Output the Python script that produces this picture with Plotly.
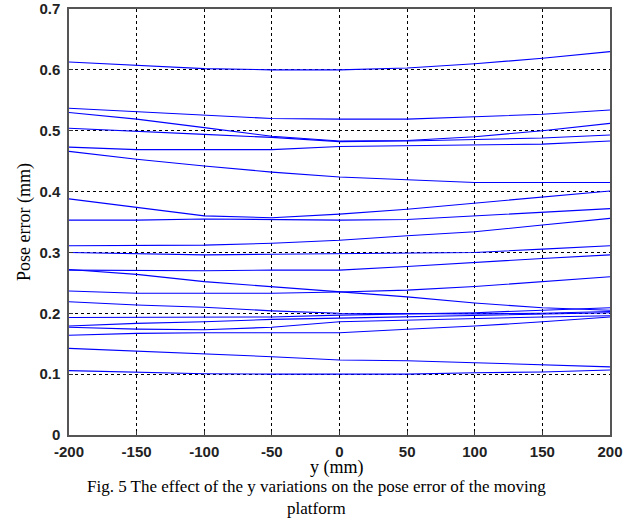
import plotly.graph_objects as go

y_pos = [-200, -150, -100, -50, 0, 50, 100, 150, 200]

curve_A = [0.613, 0.607, 0.602, 0.600, 0.600, 0.603, 0.610, 0.619, 0.630]
curve_B = [0.537, 0.531, 0.525, 0.520, 0.519, 0.519, 0.523, 0.527, 0.534]
curve_C = [0.530, 0.519, 0.505, 0.491, 0.483, 0.484, 0.490, 0.500, 0.512]
curve_D = [0.504, 0.4995, 0.494, 0.489, 0.482, 0.483, 0.485, 0.488, 0.493]
curve_E = [0.473, 0.469, 0.469, 0.469, 0.474, 0.475, 0.476, 0.478, 0.483]
curve_F = [0.466, 0.453, 0.442, 0.432, 0.424, 0.419, 0.415, 0.415, 0.415]
curve_G = [0.388, 0.3735, 0.360, 0.357, 0.363, 0.371, 0.381, 0.3915, 0.401]
curve_H = [0.353, 0.353, 0.355, 0.354, 0.353, 0.354, 0.360, 0.365, 0.372]
curve_I = [0.311, 0.311, 0.312, 0.315, 0.320, 0.3275, 0.334, 0.345, 0.356]
curve_J = [0.300, 0.298, 0.296, 0.297, 0.298, 0.298, 0.300, 0.3055, 0.311]
curve_K = [0.271, 0.270, 0.270, 0.271, 0.271, 0.277, 0.284, 0.290, 0.296]
curve_L = [0.272, 0.264, 0.252, 0.2437, 0.2345, 0.227, 0.217, 0.209, 0.205]
curve_M = [0.2366, 0.233, 0.233, 0.233, 0.235, 0.238, 0.244, 0.252, 0.260]
curve_N = [0.219, 0.2136, 0.210, 0.204, 0.200, 0.199, 0.199, 0.200, 0.203]
curve_O = [0.193, 0.193, 0.193, 0.194, 0.197, 0.199, 0.201, 0.205, 0.209]
curve_P = [0.179, 0.1835, 0.186, 0.190, 0.192, 0.194, 0.196, 0.199, 0.201]
curve_Q = [0.177, 0.174, 0.173, 0.177, 0.186, 0.189, 0.191, 0.194, 0.196]
curve_R = [0.164, 0.167, 0.168, 0.168, 0.168, 0.1737, 0.179, 0.186, 0.194]
curve_S = [0.1424, 0.138, 0.133, 0.1287, 0.1232, 0.122, 0.1188, 0.115, 0.112]
curve_T = [0.1057, 0.1035, 0.1007, 0.100, 0.100, 0.100, 0.1024, 0.1035, 0.1068]

curves = [curve_A, curve_B, curve_C, curve_D, curve_E, curve_F, curve_G, curve_H,
          curve_I, curve_J, curve_K, curve_L, curve_M, curve_N, curve_O, curve_P,
          curve_Q, curve_R, curve_S, curve_T]

x_ticks = [-200, -150, -100, -50, 0, 50, 100, 150, 200]
y_ticks = [0, 0.1, 0.2, 0.3, 0.4, 0.5, 0.6, 0.7]
y_tick_text = ["0", "0.1", "0.2", "0.3", "0.4", "0.5", "0.6", "0.7"]

fig = go.Figure()
for c in curves:
    fig.add_trace(go.Scatter(x=y_pos, y=c, mode="lines",
                             line=dict(color="#0000ff", width=1.1),
                             showlegend=False, hoverinfo="skip"))

tick_font = dict(family="Liberation Sans, Arial", size=15, color="#222222", weight="bold")

fig.update_xaxes(range=[-200, 200], tickvals=x_ticks, ticktext=[str(v) for v in x_ticks],
                 showgrid=True, gridcolor="#000000", gridwidth=1, griddash="3px,3px",
                 zeroline=False, showline=True, linecolor="#555555", linewidth=1.5,
                 mirror=True, ticks="inside", ticklen=4, tickcolor="#333333",
                 tickfont=tick_font, ticklabelstandoff=2, automargin=False)
fig.update_yaxes(range=[0, 0.7], tickvals=y_ticks, ticktext=y_tick_text,
                 showgrid=True, gridcolor="#000000", gridwidth=1, griddash="3px,3px",
                 zeroline=False, showline=True, linecolor="#555555", linewidth=1.5,
                 mirror=True, ticks="inside", ticklen=4, tickcolor="#333333",
                 tickfont=tick_font, ticklabelstandoff=4, automargin=False)

fig_w, fig_h = 633, 527
plot_l, plot_r, plot_t, plot_b = 69, 23, 9, 92
plot_w = fig_w - plot_l - plot_r
plot_h = fig_h - plot_t - plot_b
bottom_px = fig_h - plot_b

def py(p):
    return (bottom_px - p) / plot_h

def px(p):
    return (p - plot_l) / plot_w

serif = "Liberation Serif, Times New Roman, serif"
fig.update_layout(
    width=fig_w, height=fig_h,
    margin=dict(l=plot_l, r=plot_r, t=plot_t, b=plot_b, autoexpand=False),
    paper_bgcolor="white", plot_bgcolor="white",
    annotations=[
        dict(text="Pose error (mm)", textangle=-90, x=px(24), y=py(222),
             xref="paper", yref="paper", xanchor="center", yanchor="middle",
             showarrow=False, font=dict(family=serif, size=18, color="black")),
        dict(text="y (mm)", x=px(337), y=py(468),
             xref="paper", yref="paper", xanchor="center", yanchor="middle",
             showarrow=False, font=dict(family=serif, size=18, color="black")),
        dict(text="Fig. 5 The effect of the y variations on the pose error of the moving<br>platform",
             x=px(316), y=py(475),
             xref="paper", yref="paper", xanchor="center", yanchor="top",
             showarrow=False, font=dict(family=serif, size=17, color="black")),
    ],
)

fig.write_html("out.html", config={"displayModeBar": False},
               post_script="document.body.style.margin='0';")
